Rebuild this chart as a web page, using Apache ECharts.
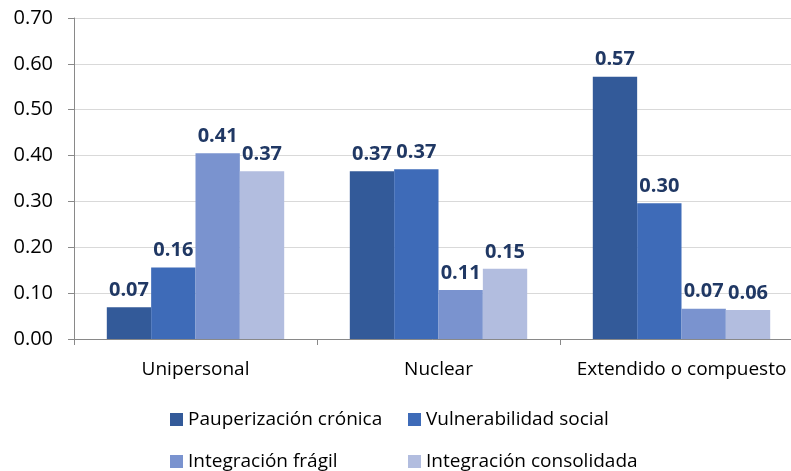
<!DOCTYPE html>
<html>
<head>
<meta charset="utf-8">
<script src="https://cdn.jsdelivr.net/npm/echarts@6/dist/echarts.min.js"></script>
<style>
  html, body { margin: 0; padding: 0; background: #fff; }
  #chart { width: 791px; height: 471px; }
</style>
</head>
<body>
<div id="chart"></div>
<script>
// datos
const categories = ["Unipersonal", "Nuclear", "Extendido o compuesto"];
const seriesNames = ["Pauperización crónica", "Vulnerabilidad social", "Integración frágil", "Integración consolidada"];
const pauperizacion = [0.069, 0.366, 0.572];
const vulnerabilidad = [0.156, 0.370, 0.296];
const fragil = [0.405, 0.107, 0.066];
const consolidada = [0.366, 0.153, 0.063];
const yTicks = [0, 0.1, 0.2, 0.3, 0.4, 0.5, 0.6, 0.7];

const colors = ["#335A99", "#3E6BB8", "#7A93CF", "#B2BDDF"];
const font = "'Open Sans', sans-serif";

const chart = echarts.init(document.getElementById("chart"));

const values = [pauperizacion, vulnerabilidad, fragil, consolidada];

// una leyenda por elemento para alinear las columnas
const legendPos = [
  {left: 165, top: 405},
  {left: 403, top: 405},
  {left: 165, top: 447},
  {left: 403, top: 447}
];

const option = {
  animation: false,
  color: colors,
  // el área sigue más allá del borde derecho (etiqueta cortada)
  grid: {left: 74, top: 18, height: 321, width: 729, containLabel: false, outerBoundsMode: "none"},
  legend: seriesNames.map((name, i) => ({
    data: [name],
    left: legendPos[i].left,
    top: legendPos[i].top,
    icon: "rect",
    itemWidth: 13,
    itemHeight: 13,
    textStyle: {fontFamily: font, fontSize: 19, color: "#000"}
  })),
  xAxis: {
    type: "category",
    data: categories,
    axisLine: {lineStyle: {color: "#898989", width: 1}},
    axisTick: {show: true, length: 6, lineStyle: {color: "#898989"}},
    axisLabel: {fontFamily: font, fontSize: 19, color: "#000", margin: 21, interval: 0}
  },
  yAxis: {
    type: "value",
    min: yTicks[0],
    max: yTicks[yTicks.length - 1],
    interval: 0.1,
    axisLine: {show: true, lineStyle: {color: "#898989", width: 1}},
    axisTick: {show: true, length: 6, lineStyle: {color: "#898989"}},
    splitLine: {lineStyle: {color: "#D9D9D9", width: 1}},
    axisLabel: {
      fontFamily: font, fontSize: 20, color: "#000", margin: 21,
      formatter: v => v.toFixed(2)
    }
  },
  series: values.map((data, i) => ({
    name: seriesNames[i],
    type: "bar",
    data: data,
    barGap: "0%",
    barCategoryGap: "27%",
    itemStyle: {color: colors[i]},
    label: {
      show: true,
      position: "top",
      distance: 7,
      fontFamily: font,
      fontSize: 20,
      fontWeight: "bold",
      color: "#203864",
      formatter: p => p.value.toFixed(2)
    }
  }))
};

chart.setOption(option);
</script>
</body>
</html>
